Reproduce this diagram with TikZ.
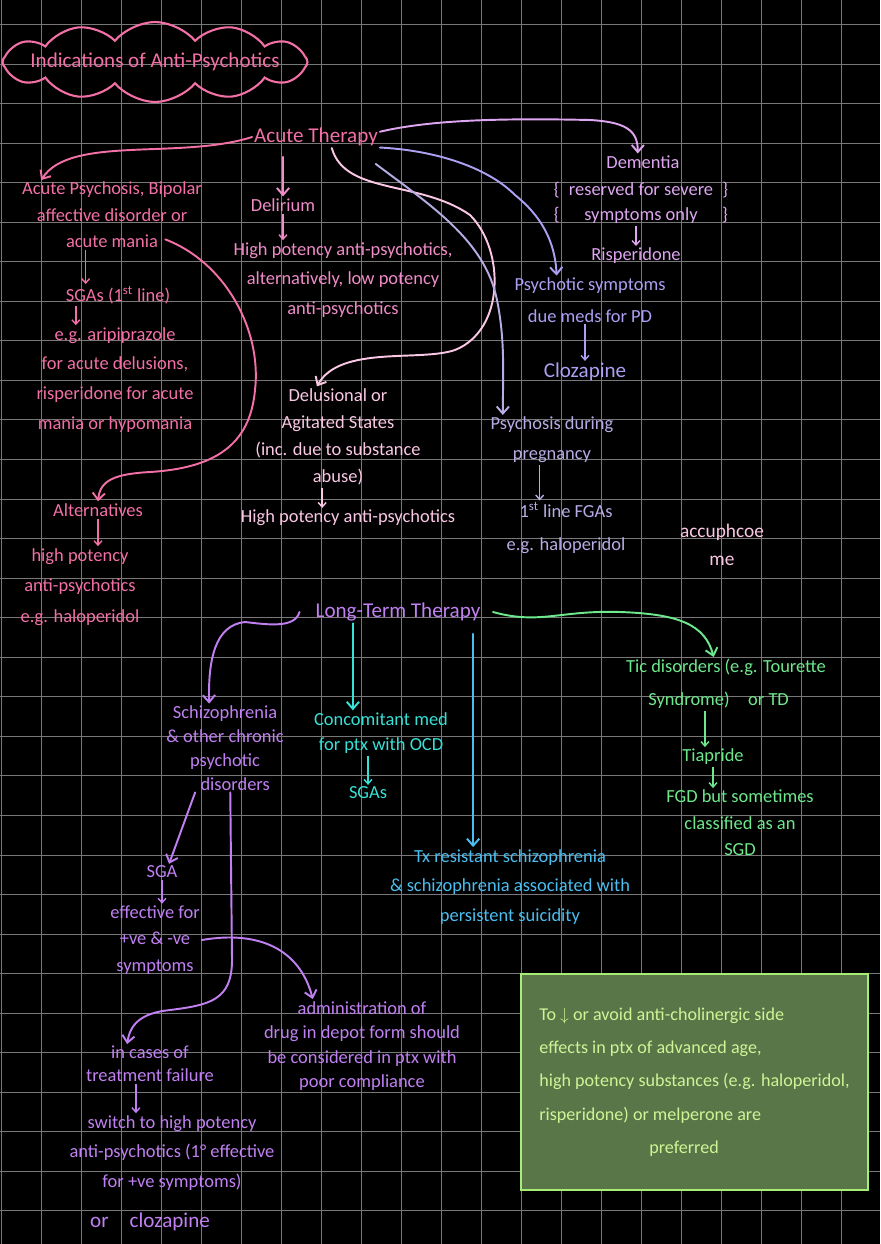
\documentclass[tikz,border=0pt]{standalone}
\usepackage{fontspec}
\setmainfont{Carlito}
\usepackage{tikz}
\usetikzlibrary{positioning,arrows.meta,shapes.symbols}

\definecolor{hotpink}{RGB}{242,112,165}
\definecolor{midpink}{RGB}{240,140,200}
\definecolor{palepink}{RGB}{250,200,228}
\definecolor{demlav}{RGB}{222,165,240}
\definecolor{perilav}{RGB}{172,160,242}
\definecolor{greylav}{RGB}{185,172,228}
\definecolor{ltpurple}{RGB}{192,128,242}
\definecolor{aqua}{RGB}{55,225,215}
\definecolor{sky}{RGB}{75,190,240}
\definecolor{mint}{RGB}{110,232,140}
\definecolor{boxfill}{RGB}{88,118,72}
\definecolor{boxline}{RGB}{165,238,115}
\definecolor{boxtext}{RGB}{205,245,150}

\begin{document}
\begin{tikzpicture}[x=0.02cm,y=-0.02cm,
  gridline/.style={draw=white!47!black,line width=0.5pt},
  txt/.style={inner sep=1pt,align=center,font=\fontsize{10.5}{15}\selectfont},
  pk/.style={txt,text=hotpink},
  mp/.style={txt,text=midpink},
  pp/.style={txt,text=palepink},
  dm/.style={txt,text=demlav},
  pv/.style={txt,text=perilav},
  pg/.style={txt,text=greylav},
  lv/.style={txt,text=ltpurple},
  cy/.style={txt,text=aqua},
  bl/.style={txt,text=sky},
  gn/.style={txt,text=mint},
  big/.style={font=\fontsize{12}{14}\selectfont},
  notebox/.style={rectangle,draw=boxline,fill=boxfill,line width=1.2pt,minimum width=6.94cm,minimum height=4.32cm,align=left,text=boxtext,font=\fontsize{10.3}{19}\selectfont},
  arr/.style={-{Straight Barb[length=4pt,width=7pt]},line width=1.1pt,line cap=round},
  tick/.style={-{Straight Barb[length=2.5pt,width=4.5pt]},line width=0.8pt}]
  \fill[black](0,0)rectangle(880,1244);
  \useasboundingbox(0,0)rectangle(880,1244);
  \foreach \k in {0,...,21} \draw[gridline](1.7+40*\k,0)--(1.7+40*\k,1244);
  \foreach \k in {0,...,30} \draw[gridline](0,24.4+39.55*\k)--(880,24.4+39.55*\k);
  % title
  \node[cloud,cloud puffs=12,cloud puff arc=100,cloud ignores aspect,minimum width=6.1cm,minimum height=1.6cm,inner sep=0pt,draw=hotpink,line width=1.2pt](cloudbg)at(155,62){};
  \node[pk,font=\fontsize{12}{14}\selectfont](title)at(cloudbg){Indications of Anti-Psychotics};
  % acute therapy
  \node[pk,big](acute)at(316,137){Acute Therapy};
  \node[pk](acpsy)at(112,215){Acute Psychosis, Bipolar\\affective disorder or\\acute mania};
  \node[pk](sgas)at(118,295){SGAs (1\textsuperscript{st} line)};
  \node[pk,font=\fontsize{10.5}{17}\selectfont](egari)at(115,380){e.g. aripiprazole\\for acute delusions,\\risperidone for acute\\mania or hypomania};
  \node[pk](alt)at(98,510){Alternatives};
  \node[pk,font=\fontsize{10.5}{17.5}\selectfont](altdrug)at(80,587){high potency\\anti-psychotics\\e.g. haloperidol};
  \node[mp](delir)at(283,205){Delirium};
  \node[mp,font=\fontsize{10.5}{17}\selectfont](delirtx)at(343,280){High potency anti-psychotics,\\alternatively, low potency\\anti-psychotics};
  \node[dm](dem)at(643,162){Dementia};
  \node[dm,font=\fontsize{10.5}{14}\selectfont](demnote)at(641,203){\{\makebox[3.25cm]{reserved for severe}\}\\\{\makebox[3.25cm]{symptoms only}\}};
  \node[dm](risp)at(636,256){Risperidone};
  \node[pv,font=\fontsize{10.5}{18}\selectfont](pdpsy)at(590,300){Psychotic symptoms\\due meds for PD};
  \node[pv,big](cloz)at(585,372){Clozapine};
  \node[pp,font=\fontsize{10.5}{15.5}\selectfont](delus)at(338,437){Delusional or\\Agitated States\\(inc. due to substance\\abuse)};
  \node[pp](delustx)at(348,518){High potency anti-psychotics};
  \node[pg,font=\fontsize{10.5}{17}\selectfont](preg)at(552,440){Psychosis during\\pregnancy};
  \node[pg,font=\fontsize{10.5}{18.5}\selectfont](fgas)at(566,528){1\textsuperscript{st} line FGAs\\e.g. haloperidol};
  \node[pp,font=\fontsize{11}{16}\selectfont](scrib)at(722,545){accuphcoe\\me};
  % long-term therapy
  \node[lv,big](long)at(398,612){Long-Term Therapy};
  \node[lv,font=\fontsize{10.5}{13.6}\selectfont](schizo)at(225,748){Schizophrenia\\\& other chronic\\psychotic\hspace*{1.1em}\\\hspace*{1.1em}disorders};
  \node[cy,font=\fontsize{10.5}{14.5}\selectfont](ocd)at(381,733){Concomitant med\\for ptx with OCD};
  \node[cy](ocdsga)at(368,793){SGAs};
  \node[bl,font=\fontsize{10.5}{17}\selectfont](txres)at(510,887){Tx resistant schizophrenia\\\& schizophrenia associated with\\persistent suicidity};
  \node[gn,font=\fontsize{10.5}{19}\selectfont](tic)at(726,684){Tic disorders (e.g. Tourette\\Syndrome)\quad or TD\hspace*{0.8em}};
  \node[gn](tiap)at(713,757){Tiapride};
  \node[gn,font=\fontsize{10.5}{15}\selectfont](tiapnote)at(740,823){FGD but sometimes\\classified as an\\SGD};
  \node[lv](sga)at(162,872){SGA};
  \node[lv,font=\fontsize{10.5}{15}\selectfont](sgaeff)at(155,940){effective for\\+ve \& -ve\\symptoms};
  \node[lv,font=\fontsize{10.5}{14}\selectfont](depot)at(362,1046){administration of\\drug in depot form should\\be considered in ptx with\\poor compliance};
  \node[lv,font=\fontsize{10.5}{13}\selectfont](fail)at(150,1064){in cases of\\treatment failure};
  \node[lv,font=\fontsize{10.5}{17}\selectfont](switch)at(172,1153){switch to high potency\\anti-psychotics (1° effective\\for +ve symptoms)};
  \node[lv,big](orcloz)at(150,1222){or\quad clozapine};
  \node[notebox](box)at(694.5,1082){To $\downarrow$ or avoid anti-cholinergic side\\effects in ptx of advanced age,\\high potency substances (e.g. haloperidol,\\risperidone) or melperone are\\\hspace*{2.2cm}preferred};
  % connectors
  \draw[arr,hotpink](acute.west)..controls(180,160)and(70,135)..([xshift=12pt]acpsy.north west);
  \draw[arr,midpink]([yshift=-5pt]acute.south -| delir.north)--(delir.north);
  \draw[arr,palepink]([xshift=9pt]acute.south)..controls(345,195)and(420,180)..(470,215)..controls(505,250)and(505,330)..(455,350)..controls(420,362)and(340,345)..([xshift=-12pt]delus.north);
  \draw[arr,greylav]([xshift=34pt,yshift=-9pt]acute.south)..controls(430,205)and(485,240)..(497,300)..controls(505,340)and(503,370)..([xshift=-28pt]preg.north);
  \draw[arr,perilav]([yshift=-6pt]acute.east)..controls(430,150)and(485,165)..(515,195)..controls(540,215)and(555,240)..([xshift=-19pt]pdpsy.north);
  \draw[arr,demlav]([yshift=3pt]acute.east)..controls(430,120)and(500,118)..(590,120)..controls(625,122)and(638,130)..([xshift=-3pt]dem.north);
  \draw[arr,hotpink]([xshift=-22pt,yshift=6pt]acpsy.south east)..controls(225,262)and(262,330)..(255,390)..controls(250,445)and(215,468)..(150,472)..controls(115,474)and(100,480)..(alt.north);
  \draw[tick,hotpink]([xshift=-15pt]acpsy.south)--([xshift=-15pt]acpsy.south |- sgas.north);
  \draw[tick,hotpink]([xshift=-24pt]sgas.south)--([xshift=-24pt]sgas.south |- egari.north);
  \draw[tick,hotpink](alt.south)--(alt.south |- altdrug.north);
  \draw[tick,midpink](delir.south)--(delir.south |- delirtx.north);
  \draw[tick,demlav](demnote.south -| risp.north)--(risp.north);
  \draw[tick,perilav](pdpsy.south -| cloz.north)--(cloz.north);
  \draw[tick,palepink]([xshift=-9pt]delus.south)--([xshift=-9pt]delus.south |- delustx.north);
  \draw[tick,greylav]([xshift=-7pt]preg.south)--([xshift=-7pt]preg.south |- fgas.north);
  \draw[arr,ltpurple]([xshift=-8pt]long.west)..controls(295,628)and(270,625)..(245,622)..controls(215,625)and(208,660)..([xshift=-9pt]schizo.north);
  \draw[arr,aqua]([xshift=-16pt]ocd.north |- long.south)--([xshift=-16pt]ocd.north);
  \draw[arr,sky]([xshift=-21pt,yshift=-6pt]txres.north |- long.south)--([xshift=-21pt]txres.north);
  \draw[arr,mint]([xshift=6pt]long.east)..controls(540,625)and(560,610)..(620,612)..controls(680,614)and(705,625)..([xshift=-7pt]tic.north);
  \draw[tick,aqua](ocd.south -| ocdsga.north)--(ocdsga.north);
  \draw[tick,mint]([xshift=-12pt]tic.south)--([xshift=-12pt]tic.south |- tiap.north);
  \draw[tick,mint](tiap.south)--(tiap.south |- tiapnote.north);
  \draw[arr,ltpurple]([xshift=-17pt]schizo.south)--([xshift=4pt]sga.north);
  \draw[tick,ltpurple](sga.south)--(sga.south |- sgaeff.north);
  \draw[arr,ltpurple]([xshift=3pt]schizo.south)--(232,960)..controls(232,1000)and(210,1005)..(170,1010)..controls(140,1013)and(130,1025)..([xshift=-13pt]fail.north);
  \draw[arr,ltpurple](sgaeff.east)..controls(260,930)and(300,950)..([xshift=-28pt]depot.north);
  \draw[tick,ltpurple]([xshift=-8pt]fail.south)--([xshift=-8pt]fail.south |- switch.north);
\end{tikzpicture}
\end{document}
